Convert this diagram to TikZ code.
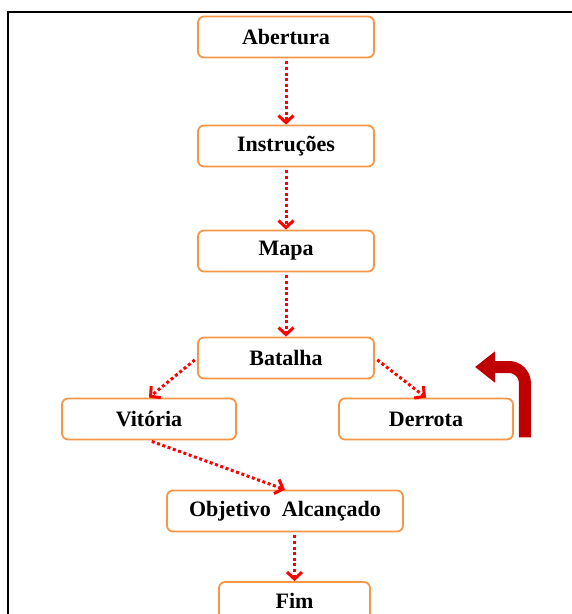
\documentclass[tikz,border=0pt]{standalone}
\usepackage{fontspec}
\setmainfont{Liberation Serif}
\usepackage{tikz}
\usetikzlibrary{arrows.meta, calc}

\definecolor{borda}{HTML}{F79646}
\definecolor{vermelho}{HTML}{FF0000}
\definecolor{vinho}{HTML}{C00000}

\tikzset{
	seta/.style={draw=vermelho, line width=3pt, dash pattern=on 3pt off 2.6pt, shorten <=3pt},
	retorno/.style={draw=vinho, line width=12pt, rounded corners=16pt}
}

\begin{document}
\begin{tikzpicture}[x=1pt, y=-1pt,
						every node/.style={draw=borda, line width=1.8pt, rounded corners=6pt,
							minimum width=176pt, minimum height=41pt, inner sep=0pt,
							font=\fontsize{22}{25}\selectfont\bfseries},
						every path/.style={>={Straight Barb[length=7pt,width=15pt]}}]
					\useasboundingbox (0,0) rectangle (572,614);
					\clip (0,0) rectangle (572,614);
					\draw [line width=2pt] (8,640) -- (8,12) -- (600,12);

					\node (T1) at (286,37) {Abertura};
					\node (T2) at (286,146) {Instruções};
					\node (T3) at (286,251) {Mapa};
					\node (T4) at (286,358) {Batalha};
					\node [minimum width=174pt] (T5) at (149,419) {Vitória};
					\node [minimum width=174pt] (T6) at (426,419) {Derrota};
					\node [minimum width=236pt] (T7) at (285,511) {Objetivo\ \ Alcançado};
					\node [minimum width=151pt, minimum height=38pt] (T8) at (294.5,601) {Fim};
					\coordinate (R) at (475,367);

					\path [seta] (T1) edge [->] (T2);
					\path [seta] (T2) edge [->] (T3);
					\path [seta] (T3) edge [->] (T4);
					\path [seta] (T4.west) edge [->] (T5.north);
					\path [seta] (T4.east) edge [->] (T6.north);
					\path [seta] (T5.south) edge [->] (T7.north);
					\path [seta] (T7.south -| T8.north) edge [->] (T8.north);

					\draw [retorno, -{Triangle[length=20pt,width=30pt]}] ($(T6.south east)+(11,-3)$) |- (R);
				\end{tikzpicture}
\end{document}
